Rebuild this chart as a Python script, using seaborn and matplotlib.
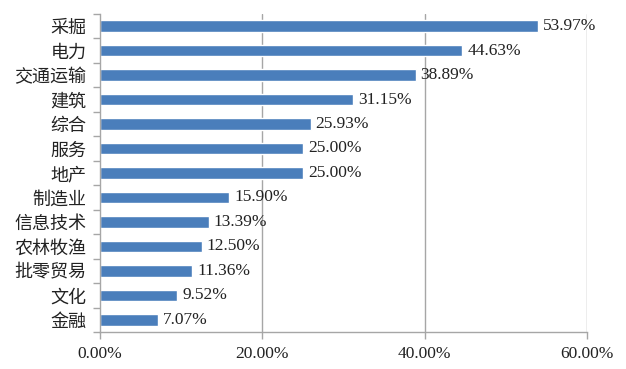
#!/usr/bin/env python
"""Industry share bar chart (horizontal)."""
import matplotlib

matplotlib.use("Agg")
import matplotlib.pyplot as plt
import numpy as np
import pandas as pd
import seaborn as sns
from matplotlib.ticker import FixedLocator

industries = ["采掘", "电力", "交通运输", "建筑", "综合", "服务", "地产",
              "制造业", "信息技术", "农林牧渔", "批零贸易", "文化", "金融"]
shares = [53.97, 44.63, 38.89, 31.15, 25.93, 25.00, 25.00,
          15.90, 13.39, 12.50, 11.36, 9.52, 7.07]
x_ticks = [0, 20, 40, 60]

BAR_COLOR = "#4A7EBB"
AXIS_GREY = "#A6A6A6"
TEXT_COLOR = "#222222"

sns.set_theme(style="white")
plt.rcParams["font.family"] = ["Noto Sans CJK SC", "DejaVu Sans"]

df = pd.DataFrame({"industry": industries, "share": shares})

fig = plt.figure(figsize=(6.26, 3.69), dpi=100)
ax = fig.add_axes([0.16, 0.1003, 0.7777, 0.862])

sns.barplot(data=df, x="share", y="industry", orient="h", color=BAR_COLOR,
            saturation=1, width=0.47, ax=ax)

# value labels
for i, v in enumerate(shares):
    ax.text(v + 0.6, i, f"{v:.2f}%", va="center", ha="left", fontsize=12.5,
            family="Liberation Serif", color=TEXT_COLOR)

ax.set_xlim(0, 60)
ax.set_ylim(len(industries) - 0.5, -0.5)
ax.set_xlabel("")
ax.set_ylabel("")

# vertical gridlines
for t in x_ticks[1:]:
    ax.axvline(t, color=AXIS_GREY, lw=1, zorder=0)

ax.set_xticks(x_ticks)
ax.set_xticklabels([f"{t:.2f}%" for t in x_ticks], family="Liberation Serif",
                   fontsize=12.5, color=TEXT_COLOR)
ax.tick_params(axis="x", which="major", bottom=True, length=5, width=1,
               color=AXIS_GREY, pad=5)

# y ticks: labels centred on bars, tick marks between categories
ax.tick_params(axis="y", which="major", left=False, length=0, pad=10,
               labelsize=13, labelcolor=TEXT_COLOR)
ax.yaxis.set_minor_locator(FixedLocator(np.arange(-0.5, len(industries), 1.0)))
ax.tick_params(axis="y", which="minor", left=True, length=5, width=1,
               color=AXIS_GREY)

for side in ["top", "right"]:
    ax.spines[side].set_visible(False)
for side in ["left", "bottom"]:
    ax.spines[side].set_color(AXIS_GREY)
    ax.spines[side].set_linewidth(1)

fig.savefig("out.png", dpi=100)
